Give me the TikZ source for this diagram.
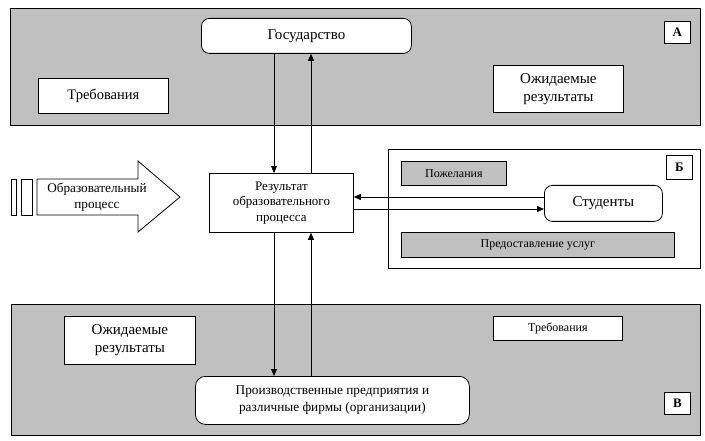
\documentclass[tikz,border=0pt]{standalone}
\usepackage{fontspec}
\setmainfont{Liberation Serif}
\usetikzlibrary{arrows.meta}
\definecolor{panelgray}{HTML}{C0C0C0}
\tikzset{
  panel/.style={draw, line width=0.8pt, fill=panelgray, anchor=north west, inner sep=0pt},
  wpanel/.style={draw, line width=0.8pt, fill=white, anchor=north west, inner sep=0pt},
  box/.style={draw, line width=0.8pt, fill=white, anchor=north west, inner sep=0pt, align=center, font=\fontsize{14.5}{17}\selectfont},
  gbox/.style={draw, line width=0.8pt, fill=panelgray, anchor=north west, inner sep=0pt, align=center, font=\fontsize{12}{14}\selectfont},
  rbox/.style={box, rounded corners=8pt},
  lbox/.style={draw, line width=0.8pt, fill=white, anchor=north west, inner sep=0pt, font=\bfseries\fontsize{13}{15}\selectfont},
  arr/.style={line width=0.8pt, -{Triangle[length=7pt,width=6pt]}},
  ln/.style={line width=0.8pt}
}
\begin{document}
\begin{tikzpicture}[x=1pt,y=-1pt]
\useasboundingbox (0,0) rectangle (705,441);
% panels
\node[panel, minimum width=690, minimum height=117] (pA) at (10,8) {};
\node[panel, minimum width=689, minimum height=131] (pV) at (11,304) {};
\node[wpanel, minimum width=312, minimum height=119] (pB) at (388,149) {};
% panel A
\node[rbox, minimum width=210, minimum height=35, font=\fontsize{15}{17}\selectfont] (gos) at (201,18) {Государство};
\node[lbox, minimum width=26, minimum height=22] (la) at (664,21) {А};
\node[box, minimum width=130, minimum height=35] (treb1) at (38,78) {Требования};
\node[box, minimum width=130, minimum height=47, font=\fontsize{15}{18}\selectfont] (ozh1) at (493,65) {Ожидаемые\\результаты};
% panel B
\node[gbox, minimum width=105, minimum height=24] (pozh) at (401,161) {Пожелания};
\node[lbox, minimum width=26, minimum height=24] (lb) at (666,155) {Б};
\node[rbox, minimum width=118, minimum height=36, font=\fontsize{15}{17}\selectfont] (stud) at (544,185) {Студенты};
\node[gbox, minimum width=273, minimum height=25] (pred) at (401,232) {Предоставление услуг};
% panel V
\node[box, minimum width=131, minimum height=48, font=\fontsize{15}{18}\selectfont] (ozh2) at (64,316) {Ожидаемые\\результаты};
\node[box, minimum width=129, minimum height=24, font=\fontsize{12}{14}\selectfont] (treb2) at (493,316) {Требования};
\node[rbox, rounded corners=10pt, minimum width=274, minimum height=48, font=\fontsize{13.3}{17}\selectfont] (proizv) at (195,376) {Производственные предприятия и\\различные фирмы (организации)};
\node[lbox, minimum width=26, minimum height=22] (lv) at (664,392) {В};
% result
\node[box, minimum width=144, minimum height=59, font=\fontsize{13}{15.5}\selectfont] (res) at (209,173) {Результат\\образовательного\\процесса};
% big arrow
\draw[ln, fill=white] (37,179) -- (138,179) -- (138,161) -- (180,197) -- (138,232) -- (138,215) -- (37,215) -- cycle;
\node[font=\fontsize{13.2}{16}\selectfont, align=center] (proc) at (97,197) {Образовательный\\процесс};
\node[draw, line width=0.8pt, fill=white, anchor=north west, inner sep=0pt, minimum width=5, minimum height=36] (bar1) at (11,179) {};
\node[draw, line width=0.8pt, fill=white, anchor=north west, inner sep=0pt, minimum width=11, minimum height=36] (bar2) at (21,179) {};
% connectors
\coordinate (xa) at (274,0);
\coordinate (xb) at (311,0);
\coordinate (yc) at (0,197);
\coordinate (yd) at (0,209);
\draw[arr] (gos.south -| xa) -- (res.north -| xa);
\draw[arr] (res.north -| xb) -- (gos.south -| xb);
\draw[arr] (res.south -| xa) -- (proizv.north -| xa);
\draw[arr] (proizv.north -| xb) -- (res.south -| xb);
\draw[arr] (stud.west |- yc) -- (res.east |- yc);
\draw[arr] (res.east |- yd) -- (stud.west |- yd);
\end{tikzpicture}
\end{document}
